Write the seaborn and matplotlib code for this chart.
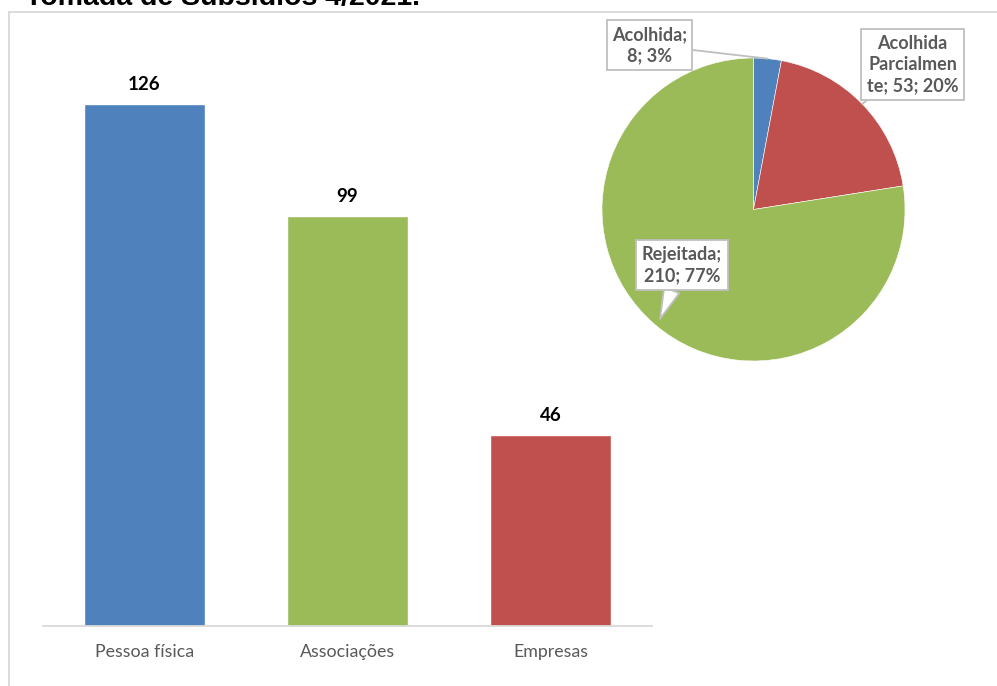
import numpy as np
import seaborn as sns
import matplotlib.pyplot as plt
from matplotlib.lines import Line2D

# data
categories = ["Pessoa física", "Associações", "Empresas"]
counts = [126, 99, 46]
bar_colors = ["#4F81BD", "#9BBB59", "#C0504D"]

pie_labels = ["Acolhida", "Acolhida\nParcialmen\nte", "Rejeitada"]
pie_values = [8, 53, 210]
pie_colors = ["#4F81BD", "#C0504D", "#9BBB59"]

title = "Tomada de Subsídios 4/2021."

sns.set_theme(style="white")
plt.rcParams['font.family'] = ['Lato', 'DejaVu Sans']

W, H = 997, 686
fig = plt.figure(figsize=(W / 100, H / 100), dpi=100)

# outer frame (only top and left visible, cut by the image edges)
frame_col = "#d9d9d9"
fig.add_artist(Line2D([8.5 / W, 1], [1 - 11.5 / H] * 2, color=frame_col, lw=1.3, transform=fig.transFigure))
fig.add_artist(Line2D([8.5 / W] * 2, [0, 1 - 11.5 / H], color=frame_col, lw=1.3, transform=fig.transFigure))

# title, cut off at the top of the image
fig.text(25 / W, 1 - 4.5 / H, title, fontsize=20.5, fontweight="bold",
         family="Liberation Sans", va="baseline", ha="left", color="black")

# ---- bar chart
ax = fig.add_axes([43 / W, 1 - 626 / H, (652 - 43) / W, (626 - 40) / H])
sns.barplot(x=categories, y=counts, hue=categories, palette=bar_colors,
            width=0.6, saturation=1, legend=False, ax=ax)
ax.set_xlim(-0.5, 2.5)
ax.set_ylim(0, (626 - 40) / ((626 - 104) / 126))
for c in ax.containers:
    ax.bar_label(c, fmt="%d", padding=8, fontsize=13.5, fontweight="bold", color="black")

for s in ["top", "right", "left"]:
    ax.spines[s].set_visible(False)
ax.spines["bottom"].set_color("#d9d9d9")
ax.spines["bottom"].set_linewidth(1.3)
ax.set_yticks([])
ax.set_xticks(range(len(categories)))
ax.set_xticklabels(categories, fontsize=12.8, color="#595959")
ax.tick_params(axis="x", which="major", length=0, pad=13)
ax.set_xticks(np.arange(-0.5, len(categories)), minor=True)
ax.tick_params(axis="x", which="minor", length=6, width=1.3, color="#d9d9d9", direction="out")
ax.set_xlabel("")
ax.set_ylabel("")

# ---- pie chart
cx, cy, r = 753.5, 209.5, 151.5
ax2 = fig.add_axes([(cx - r) / W, 1 - (cy + r) / H, 2 * r / W, 2 * r / H])
wedges, _ = ax2.pie(pie_values, colors=pie_colors, startangle=90, counterclock=False,
                    wedgeprops=dict(linewidth=0.4, edgecolor="white"))
ax2.set_xlim(-1, 1)
ax2.set_ylim(-1, 1)
ax2.set_aspect("equal")
ax2.axis("off")

total = sum(pie_values)
box = dict(boxstyle="square,pad=0.3", fc="white", ec="#bfbfbf", lw=1.3)
txt_kw = dict(fontsize=13, fontweight="bold", color="#595959", ha="center", va="center",
              linespacing=1.3, annotation_clip=False)


def px(x, y):
    return ((x - cx) / r, (cy - y) / r)


label_pos = [px(649.5, 45), px(912.5, 64.5), px(682, 265)]
for i, (lab, v) in enumerate(zip(pie_labels, pie_values)):
    w = wedges[i]
    ang = np.deg2rad((w.theta1 + w.theta2) / 2)
    rr = 1.0 if i < 2 else 0.95
    tip = (rr * np.cos(ang), rr * np.sin(ang))
    pct = round(100 * v / total)
    if i == 1:
        text = f"{lab}; {v}; {pct}%"
    else:
        text = f"{lab};\n{v}; {pct}%"
    if i == 2:
        arrow = dict(arrowstyle="wedge,tail_width=0.9,shrink_factor=0.5", fc="white",
                     ec="#bfbfbf", lw=1.3, shrinkA=0, shrinkB=0)
    else:
        arrow = dict(arrowstyle="-", color="#bfbfbf", lw=1.3, shrinkA=0, shrinkB=0)
    ax2.annotate(text, xy=tip, xytext=label_pos[i], bbox=box, arrowprops=arrow, **txt_kw)

fig.savefig("out.png", dpi=100)
